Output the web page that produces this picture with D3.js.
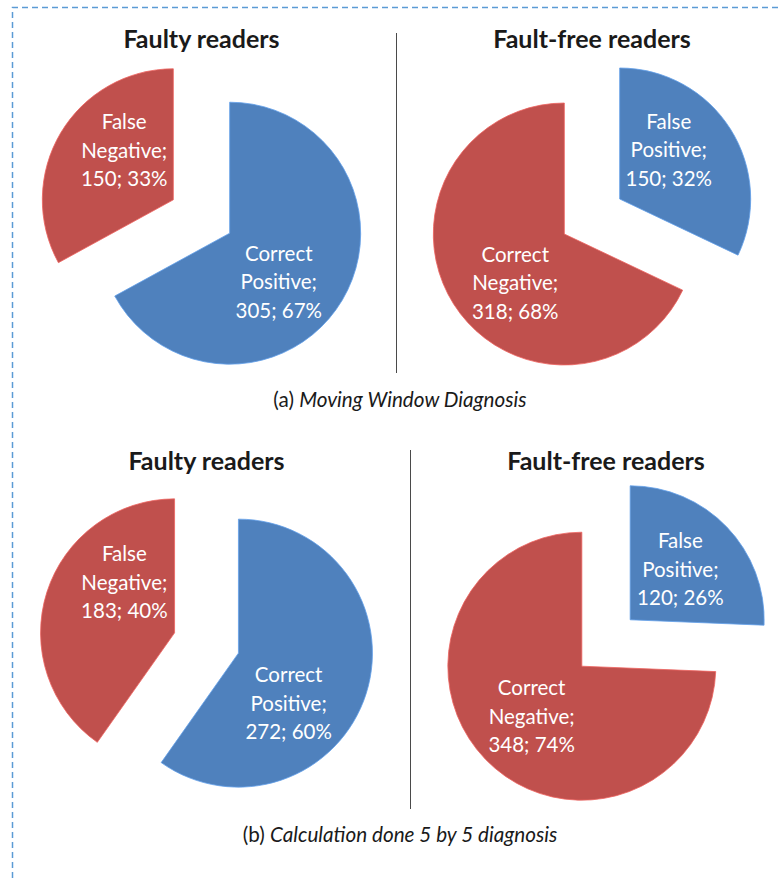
<!DOCTYPE html>
<html>
<head>
<meta charset="utf-8">
<script src="https://cdn.jsdelivr.net/npm/d3@7"></script>
<style>
  html, body { margin: 0; padding: 0; background: #ffffff; }
  svg { display: block; }
</style>
</head>
<body>
<svg id="chart" width="778" height="878"></svg>
<script>
// ---- data -------------------------------------------------------------
const faultyCategories    = ["Correct Positive", "False Negative"];
const faultFreeCategories = ["False Positive", "Correct Negative"];

// (a) Moving Window Diagnosis
const movingWindowFaulty    = [305, 150];
const movingWindowFaultFree = [150, 318];

// (b) Calculation done 5 by 5
const fiveByFiveFaulty    = [272, 183];
const fiveByFiveFaultFree = [120, 348];

const pieTitles = ["Faulty readers", "Fault-free readers"];
const captionPrefixes = ["(a) ", "(b) "];
const captionTitles = ["Moving Window Diagnosis", "Calculation done 5 by 5 diagnosis"];

// ---- layout -----------------------------------------------------------
const W = 778, H = 878;
const sliceColor = d3.scaleOrdinal().domain([0, 1]).range(["#4F81BD", "#C0504D"]);
const fontFamily = "Lato, 'Open Sans', sans-serif";

const rows = [
  { titleY: 48,  cy: 216.5, radius: 131, cols: [201.5, 592], sepX: 396.5, sepY: [33, 373],  captionY: 407 },
  { titleY: 470, cy: 643,   radius: 134, cols: [206.5, 606], sepX: 410.5, sepY: [450, 809], captionY: 842 }
];

const panels = [
  { row: 0, col: 0, title: pieTitles[0], cats: faultyCategories,    values: movingWindowFaulty },
  { row: 0, col: 1, title: pieTitles[1], cats: faultFreeCategories, values: movingWindowFaultFree },
  { row: 1, col: 0, title: pieTitles[0], cats: faultyCategories,    values: fiveByFiveFaulty },
  { row: 1, col: 1, title: pieTitles[1], cats: faultFreeCategories, values: fiveByFiveFaultFree }
];

const svg = d3.select("#chart");

// dashed frame along the top and left edges
svg.append("path")
  .attr("d", `M${W},7.5 H12.5 V${H}`)
  .attr("fill", "none")
  .attr("stroke", "#5B9BD5")
  .attr("stroke-width", 1.5)
  .attr("stroke-dasharray", "6,4");

const pie = d3.pie().sort(null).value(d => d.value);
const pct = d3.format(".0%");

panels.forEach(p => {
  const row = rows[p.row];
  const cx = row.cols[p.col];
  const r = row.radius;
  const explode = 0.25 * r;
  const total = d3.sum(p.values);
  const data = p.values.map((v, i) => ({ value: v, cat: p.cats[i], idx: i }));
  const arcs = pie(data);
  const arc = d3.arc().innerRadius(0).outerRadius(r);

  const g = svg.append("g").attr("transform", `translate(${cx},${row.cy})`);

  g.append("text")
    .attr("x", 0)
    .attr("y", row.titleY - row.cy)
    .attr("text-anchor", "middle")
    .attr("font-family", fontFamily)
    .attr("font-weight", 700)
    .attr("font-size", 25)
    .attr("fill", "#1a1a1a")
    .text(p.title);

  const slices = g.selectAll("g.slice")
    .data(arcs)
    .join("g")
    .attr("class", "slice")
    .attr("transform", d => {
      const mid = (d.startAngle + d.endAngle) / 2;
      return `translate(${explode * Math.sin(mid)},${-explode * Math.cos(mid)})`;
    });

  slices.append("path")
    .attr("d", arc)
    .attr("fill", d => sliceColor(d.data.idx))
    .attr("stroke", d => d3.color(sliceColor(d.data.idx)).brighter(0.6))
    .attr("stroke-width", 0.8);

  // labels sit on the quadrant diagonal nearest each slice's middle angle
  slices.each(function(d) {
    const mid = (d.startAngle + d.endAngle) / 2;
    const q = Math.PI / 4;
    const diag = q + Math.round((mid - q) / (Math.PI / 2)) * (Math.PI / 2);
    const rho = 0.53 * r;
    const lx = rho * Math.sin(diag), ly = -rho * Math.cos(diag);
    const words = d.data.cat.split(" ");
    const lines = [words[0], words.slice(1).join(" ") + ";",
                   `${d.data.value}; ${pct(d.data.value / total)}`];
    const t = d3.select(this).append("text")
      .attr("text-anchor", "middle")
      .attr("font-family", fontFamily)
      .attr("font-size", 20.5)
      .attr("fill", "#ffffff");
    lines.forEach((s, i) => {
      t.append("tspan")
        .attr("x", lx)
        .attr("y", ly + (i - 1) * 28.5)
        .attr("dy", "0.35em")
        .text(s);
    });
  });
});

// separators and captions
rows.forEach((row, i) => {
  svg.append("line")
    .attr("x1", row.sepX).attr("x2", row.sepX)
    .attr("y1", row.sepY[0]).attr("y2", row.sepY[1])
    .attr("stroke", "#4a4a4a")
    .attr("stroke-width", 1);

  const c = svg.append("text")
    .attr("x", 400)
    .attr("y", row.captionY)
    .attr("text-anchor", "middle")
    .attr("font-family", fontFamily)
    .attr("font-size", 20.7)
    .attr("fill", "#1a1a1a");
  c.append("tspan").text(captionPrefixes[i]);
  c.append("tspan").attr("font-style", "italic").text(captionTitles[i]);
});
</script>
</body>
</html>
